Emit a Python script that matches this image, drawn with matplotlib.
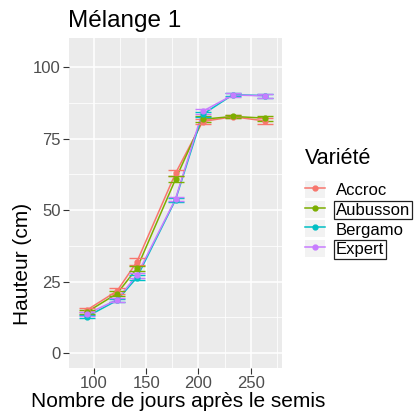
import matplotlib
matplotlib.use("Agg")
import matplotlib.pyplot as plt
from matplotlib.lines import Line2D
from matplotlib.patches import Rectangle
from matplotlib.legend_handler import HandlerTuple

# ---------------------------------------------------------------------------
# Data
# ---------------------------------------------------------------------------
days = [93, 122, 141, 178, 204, 233, 264]

varieties = ["Accroc", "Aubusson", "Bergamo", "Expert"]
colors = ["#F8766D", "#7CAE00", "#00BFC4", "#C77CFF"]

accroc = [15.0, 21.7, 31.9, 62.9, 81.0, 82.7, 81.2]
aubusson = [14.3, 20.8, 29.6, 60.8, 81.8, 82.8, 82.2]
bergamo = [12.7, 18.4, 26.4, 53.6, 83.5, 90.4, 90.1]
expert = [13.6, 18.7, 27.2, 53.9, 84.6, 90.3, 90.0]

accroc_se = [0.8, 0.9, 1.2, 1.1, 1.0, 0.6, 1.1]
aubusson_se = [0.7, 0.8, 1.0, 1.0, 1.0, 0.6, 0.9]
bergamo_se = [0.6, 0.6, 0.9, 0.8, 1.0, 0.6, 0.7]
expert_se = [0.7, 0.7, 0.9, 0.8, 0.9, 0.8, 0.8]

heights = [accroc, aubusson, bergamo, expert]
errors = [accroc_se, aubusson_se, bergamo_se, expert_se]

x_ticks = [100, 150, 200, 250]
y_ticks = [0, 25, 50, 75, 100]

# ---------------------------------------------------------------------------
# Figure
# ---------------------------------------------------------------------------
plt.rcParams["font.family"] = ["Liberation Sans", "DejaVu Sans"]

W, H = 417, 412
fig = plt.figure(figsize=(W / 100, H / 100), dpi=100)


def fx(px):
    return px / W


def fy(py):
    return 1 - py / H


ax = fig.add_axes([fx(69), fy(368), fx(282) - fx(69), fy(38) - fy(368)])
ax.set_facecolor("#EBEBEB")
for s in ax.spines.values():
    s.set_visible(False)

for v, y, e, c in zip(varieties, heights, errors, colors):
    ax.plot(days, y, color=c, lw=1.1, zorder=3)
    ax.errorbar(days, y, yerr=e, fmt="o", color=c, ms=3.5, elinewidth=1.0,
                capsize=6, capthick=1.0, zorder=4)

ax.set_xlim(76, 280)
ax.set_ylim(-5.25, 110.25)
ax.set_xticks(x_ticks)
ax.set_yticks(y_ticks)
ax.set_xticks([125, 175, 225, 275], minor=True)
ax.set_yticks([12.5, 37.5, 62.5, 87.5], minor=True)
ax.grid(which="major", color="white", lw=1.1, zorder=0)
ax.grid(which="minor", color="white", lw=0.55, zorder=0)
ax.set_axisbelow(True)
ax.tick_params(which="major", length=4, width=0.8, color="#333333",
               labelcolor="#4D4D4D", labelsize=12, pad=2)
ax.tick_params(which="minor", length=0)

fig.text(fx(68), fy(27), "Mélange 1", fontsize=17.5, ha="left", va="baseline")
fig.text(fx(178), fy(407), "Nombre de jours après le semis", fontsize=15,
         ha="center", va="baseline")
fig.text(fx(23), fy(203), "Hauteur (cm)", fontsize=15, rotation=90,
         ha="right", va="center", rotation_mode="anchor")

# legend
fig.text(fx(305), fy(158), "Variété", fontsize=15.5, ha="left", va="center")

handles = []
for c in colors:
    bg = Rectangle((0, 0), 1, 1, facecolor="#F2F2F2", edgecolor="none")
    ln = Line2D([], [], color=c, lw=1.1, marker="o", ms=3.5)
    handles.append((bg, ln))

leg = ax.legend(handles, varieties, handler_map={tuple: HandlerTuple(ndivide=1, pad=0)},
                loc="upper left", bbox_to_anchor=(fx(305), fy(181)),
                bbox_transform=fig.transFigure, frameon=False, fontsize=12,
                handlelength=1.2, handleheight=1.2, handletextpad=0.65,
                labelspacing=0.15, borderpad=0, borderaxespad=0)
for i, t in enumerate(leg.get_texts()):
    if varieties[i] in ("Aubusson", "Expert"):
        t.set_bbox(dict(facecolor="none", edgecolor="#222222", lw=0.9, pad=1.2))

fig.savefig("out.png", dpi=100)
